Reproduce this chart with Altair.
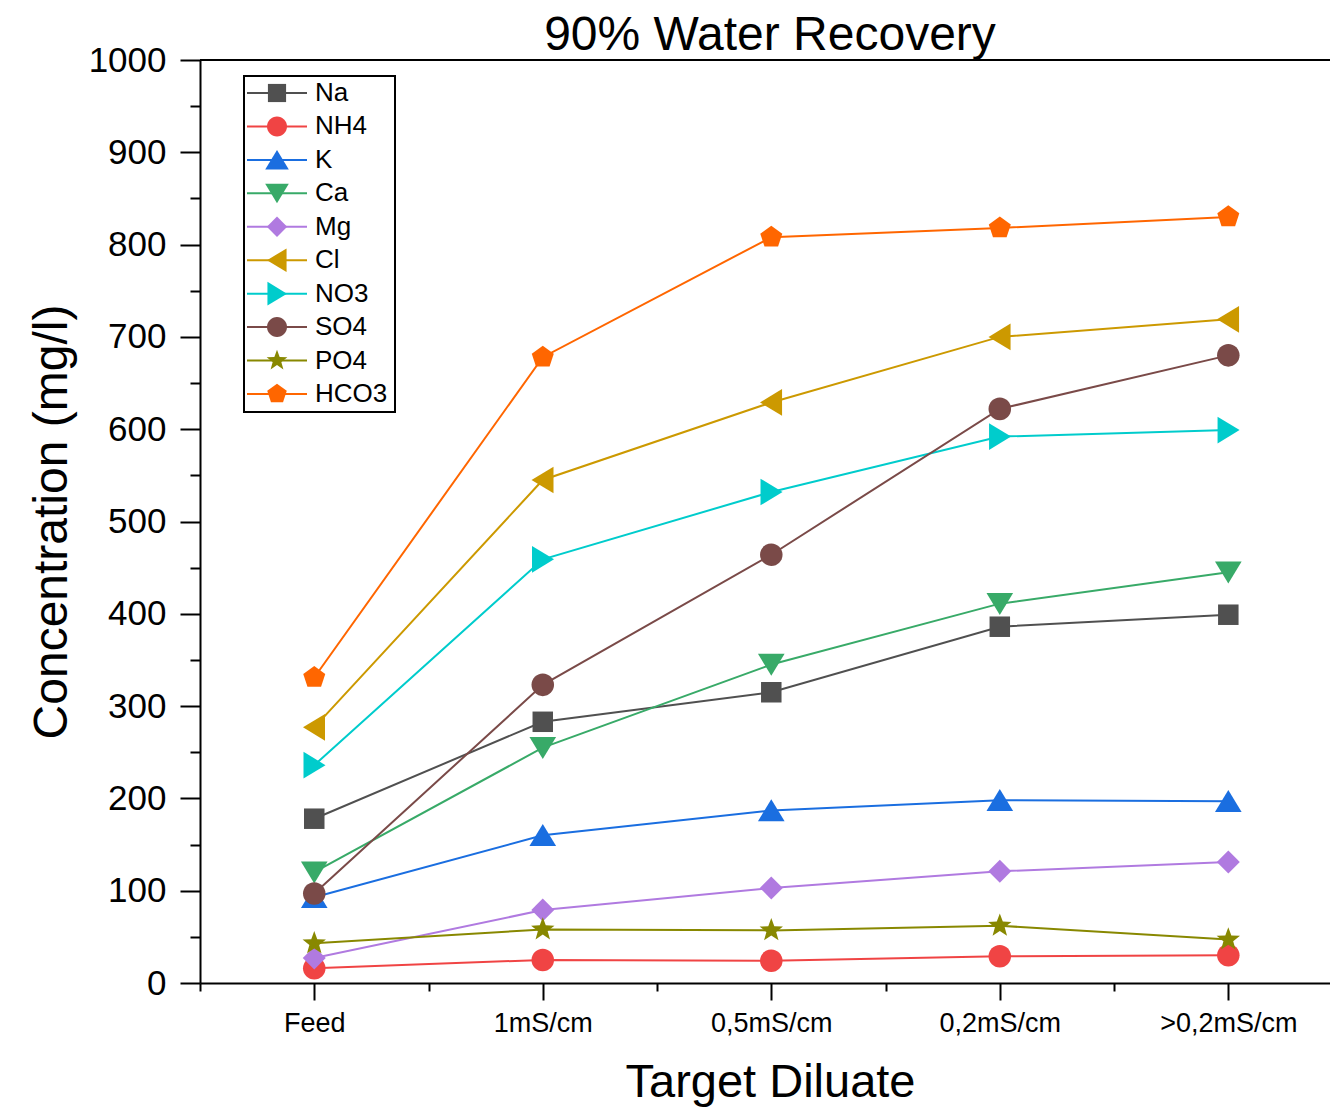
import json
import math
import altair as alt
import pandas as pd

# ---------------- data ----------------
categories = ["Feed", "1mS/cm", "0,5mS/cm", "0,2mS/cm", ">0,2mS/cm"]
ions = ["Na", "NH4", "K", "Ca", "Mg", "Cl", "NO3", "SO4", "PO4", "HCO3"]

na = [178, 283, 315, 386, 399]
nh4 = [16, 25, 24, 29, 30]
k = [93, 160, 187, 198, 197]
ca = [120, 255, 345, 411, 445]
mg = [27, 79, 103, 121, 131]
cl = [277, 545, 629, 700, 719]
no3 = [236, 459, 532, 592, 599]
so4 = [97, 323, 464, 622, 680]
po4 = [43, 58, 57, 62, 47]
hco3 = [331, 678, 808, 818, 830]

series = [na, nh4, k, ca, mg, cl, no3, so4, po4, hco3]

colors = ["#505050", "#f04444", "#1a6ee0", "#38aa68", "#b07ae0",
          "#cc9900", "#00cccc", "#7a4a48", "#888800", "#ff6600"]


def poly_path(n, r, start=-math.pi / 2, r_in=None):
    pts = []
    steps = n * 2 if r_in else n
    for i in range(steps):
        ang = start + i * 2 * math.pi / steps
        rr = r if (r_in is None or i % 2 == 0) else r_in
        pts.append(f"{rr * math.cos(ang):.3f},{rr * math.sin(ang):.3f}")
    return "M" + "L".join(pts) + "Z"


square = "M-1,-1L1,-1L1,1L-1,1Z"
circle = "M1.1,0A1.1,1.1,0,1,1,-1.1,0A1.1,1.1,0,1,1,1.1,0Z"
tri_up = "M0,-1.1L1.3,1.05L-1.3,1.05Z"
tri_down = "M0,1.1L1.3,-1.05L-1.3,-1.05Z"
tri_left = "M-1.1,0L1.05,-1.3L1.05,1.3Z"
tri_right = "M1.1,0L-1.05,-1.3L-1.05,1.3Z"
diamond = "M0,-1.12L1.12,0L0,1.12L-1.12,0Z"
star = poly_path(5, 1.2, r_in=0.5)
pentagon = poly_path(5, 1.13)
shapes = [square, circle, tri_up, tri_down, diamond,
          tri_left, tri_right, circle, star, pentagon]

rows = []
for ion, vals in zip(ions, series):
    for i, (cat, v) in enumerate(zip(categories, vals)):
        rows.append({"ion": ion, "idx": i + 1, "category": cat, "value": v})
df = pd.DataFrame(rows)
legend_df = pd.DataFrame({"ion": ions})

FONT = "Liberation Sans"
cats_js = json.dumps(categories)

PLOT_W = 1130
PLOT_H = 923

color_scale = alt.Scale(domain=ions, range=colors)
shape_scale = alt.Scale(domain=ions, range=shapes)

x_enc = alt.X(
    "idx:Q",
    scale=alt.Scale(domain=[0.5, 5.445], nice=False, zero=False),
    axis=alt.Axis(
        title="Target Diluate",
        values=[0.5, 1, 1.5, 2, 2.5, 3, 3.5, 4, 4.5, 5],
        labelExpr=f"datum.value % 1 === 0 ? {cats_js}[datum.value - 1] : ''",
        tickSize={"condition": {"test": "datum.value % 1 === 0", "value": 17}, "value": 8},
        labelOverlap=False,
        labelFlush=False,
        grid=False,
        domainColor="black", domainWidth=2,
        tickColor="black", tickWidth=2,
        labelFontSize=27, labelPadding=10, labelColor="black",
        titleFontSize=47, titlePadding=23, titleColor="black",
        titleFontWeight="normal", titleX=570,
    ),
)
y_enc = alt.Y(
    "value:Q",
    scale=alt.Scale(domain=[0, 1000], nice=False),
    axis=alt.Axis(
        title="Concentration (mg/l)",
        values=list(range(0, 1001, 50)),
        format="d",
        labelExpr="datum.value % 100 === 0 ? datum.label : ''",
        tickSize={"condition": {"test": "datum.value % 100 === 0", "value": 20}, "value": 10},
        labelOverlap=False,
        labelFlush=False,
        grid=False,
        domainColor="black", domainWidth=2,
        tickColor="black", tickWidth=2,
        labelFontSize=35, labelPadding=14, labelColor="black",
        titleFontSize=48, titlePadding=12, titleColor="black",
        titleFontWeight="normal",
    ),
)

lines = alt.Chart(df).mark_line(strokeWidth=2).encode(
    x=x_enc, y=y_enc,
    color=alt.Color("ion:N", scale=color_scale, legend=None),
    detail="ion:N",
)
points = alt.Chart(df).mark_point(filled=True, size=420, opacity=1).encode(
    x=x_enc, y=y_enc,
    color=alt.Color("ion:N", scale=color_scale, legend=None),
    shape=alt.Shape("ion:N", scale=shape_scale, legend=None),
)
main = alt.layer(lines, points)

# ---------------- legend (drawn with its own point scale) ----------------
ly = alt.Y("ion:N", scale=alt.Scale(type="point", domain=ions, range=[33, 334], padding=0), axis=None)

frame_top = alt.Chart(legend_df).mark_rule(color="black", strokeWidth=2).encode(
    x=alt.value(0), x2=alt.value(PLOT_W), y=alt.value(0)
)
box = alt.Chart(legend_df).mark_rect(fill="white", stroke="black", strokeWidth=2).encode(
    x=alt.value(44), x2=alt.value(195), y=alt.value(16), y2=alt.value(352)
)
lrule = alt.Chart(legend_df).mark_rule(strokeWidth=2).encode(
    x=alt.value(47), x2=alt.value(107), y=ly,
    color=alt.Color("ion:N", scale=color_scale, legend=None),
)
lpts = alt.Chart(legend_df).mark_point(filled=True, size=330, opacity=1).encode(
    x=alt.value(77), y=ly,
    color=alt.Color("ion:N", scale=color_scale, legend=None),
    shape=alt.Shape("ion:N", scale=shape_scale, legend=None),
)
ltext = alt.Chart(legend_df).mark_text(
    align="left", baseline="middle", fontSize=26, font=FONT, color="black"
).encode(x=alt.value(115), y=ly, text="ion:N")

legend = alt.layer(frame_top, box, lrule, lpts, ltext)

chart = alt.layer(main, legend).resolve_scale(y="independent").properties(
    width=PLOT_W,
    height=PLOT_H,
    autosize=alt.AutoSizeParams(type="none"),
    padding={"left": 192, "top": 52, "right": 0, "bottom": 128},
    title=alt.Title("90% Water Recovery", fontSize=48, font=FONT, fontWeight="normal",
                    color="black", anchor="middle", offset=4, dy=21, dx=5),
).configure_axis(
    labelFont=FONT, titleFont=FONT,
).configure_view(stroke=None).configure(background="white")

chart.save("out.html", embed_options={"renderer": "svg", "actions": False})
